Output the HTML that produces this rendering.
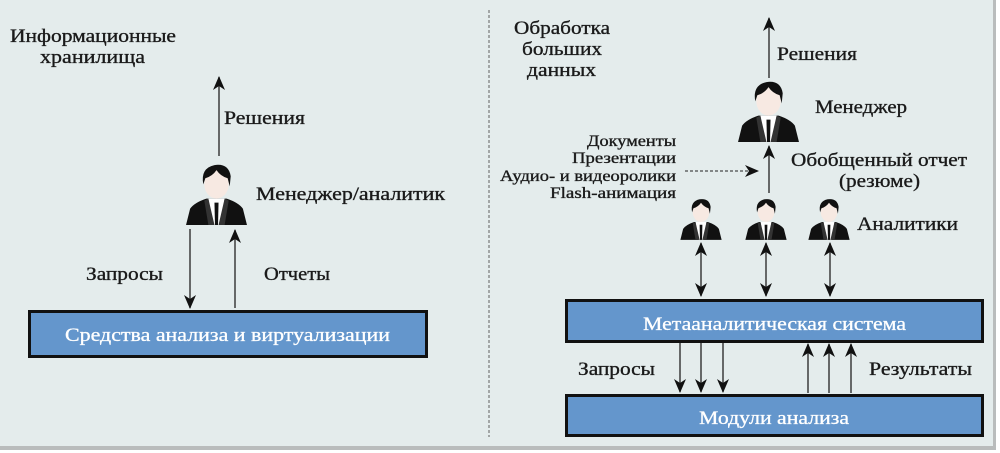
<!DOCTYPE html>
<html><head><meta charset="utf-8"><style>
html,body{margin:0;padding:0;background:#fff;}
svg{display:block;}
text{font-family:"Liberation Serif","DejaVu Serif",serif;fill:#1a1a1a;stroke:#1a1a1a;stroke-width:0.35;}
.w{fill:#fff;stroke:#fff;stroke-width:0.3;}
</style></head><body>
<svg width="1000" height="453" viewBox="0 0 1000 453" xmlns="http://www.w3.org/2000/svg">
<defs>
<marker id="a" markerWidth="14" markerHeight="12" refX="13" refY="6" orient="auto" markerUnits="userSpaceOnUse">
<path d="M0,0 L14,6 L0,12 L4,6 z" fill="#111"/></marker>
<symbol id="p" viewBox="0 0 64 62">
<path d="M2,62 L6,46 Q10,40 22,36 L42,36 Q54,40 58,46 L62,62 Z" fill="#111"/>
<path d="M24,36 L40,36 L36,62 L28,62 Z" fill="#fff"/>
<path d="M30,40 L34,40 L33.5,62 L30.5,62 Z" fill="#111"/>
<path d="M24,36 L30,62 L24,62 L20,38Z M40,36 L34,62 L40,62 L44,38Z" fill="#333"/>
<ellipse cx="32" cy="22" rx="12" ry="14" fill="#f7e9e2"/>
<path d="M19,22 Q16,6 30,3 Q44,1 46,14 L45,24 L43,16 Q36,14 32,8 Q28,14 21,16 Z" fill="#111"/>
</symbol>
</defs>
<rect x="0" y="0" width="996" height="450" fill="#b9bcbc"/>
<rect x="0" y="0" width="993" height="446" fill="#e4ecec"/>
<line x1="489" y1="10" x2="489" y2="437" stroke="#777" stroke-width="1.2" stroke-dasharray="3,2"/>

<!-- Left -->
<text x="10" y="42" font-size="19" textLength="166" lengthAdjust="spacingAndGlyphs">Информационные</text>
<text x="40" y="63" font-size="19" textLength="105" lengthAdjust="spacingAndGlyphs">хранилища</text>
<line x1="219" y1="156" x2="219" y2="77" stroke="#222" stroke-width="1.3" marker-end="url(#a)"/>
<text x="224" y="124" font-size="19" textLength="81" lengthAdjust="spacingAndGlyphs">Решения</text>
<use href="#p" x="184" y="162" width="65" height="63"/>
<text x="256" y="200" font-size="19" textLength="189" lengthAdjust="spacingAndGlyphs">Менеджер/аналитик</text>
<line x1="190" y1="229" x2="190" y2="308" stroke="#222" stroke-width="1.3" marker-end="url(#a)"/>
<line x1="235" y1="308" x2="235" y2="230" stroke="#222" stroke-width="1.3" marker-end="url(#a)"/>
<text x="86" y="280" font-size="19" textLength="77" lengthAdjust="spacingAndGlyphs">Запросы</text>
<text x="264" y="280" font-size="19" textLength="66" lengthAdjust="spacingAndGlyphs">Отчеты</text>
<rect x="29.5" y="311.5" width="397" height="45" fill="#6496cc" stroke="#111" stroke-width="3"/>
<text class="w" x="65" y="341" font-size="19" textLength="325" lengthAdjust="spacingAndGlyphs">Средства анализа и виртуализации</text>

<!-- Right -->
<text x="514" y="34" font-size="19" textLength="96" lengthAdjust="spacingAndGlyphs">Обработка</text>
<text x="522" y="55" font-size="19" textLength="80" lengthAdjust="spacingAndGlyphs">больших</text>
<text x="527" y="76" font-size="19" textLength="69" lengthAdjust="spacingAndGlyphs">данных</text>
<line x1="769" y1="78" x2="769" y2="18" stroke="#222" stroke-width="1.3" marker-end="url(#a)"/>
<text x="777" y="60" font-size="19" textLength="80" lengthAdjust="spacingAndGlyphs">Решения</text>
<use href="#p" x="736" y="79" width="65" height="63"/>
<text x="815" y="113" font-size="19" textLength="92" lengthAdjust="spacingAndGlyphs">Менеджер</text>
<line x1="769" y1="193" x2="769" y2="146" stroke="#222" stroke-width="1.3" marker-end="url(#a)"/>
<text x="791" y="166" font-size="19" textLength="176" lengthAdjust="spacingAndGlyphs">Обобщенный отчет</text>
<text x="839" y="187" font-size="19" textLength="81" lengthAdjust="spacingAndGlyphs">(резюме)</text>
<g font-size="16" text-anchor="end">
<text x="676" y="146" textLength="89" lengthAdjust="spacingAndGlyphs">Документы</text>
<text x="676" y="163" textLength="104" lengthAdjust="spacingAndGlyphs">Презентации</text>
<text x="676" y="181" textLength="176" lengthAdjust="spacingAndGlyphs">Аудио- и видеоролики</text>
<text x="676" y="198" textLength="126" lengthAdjust="spacingAndGlyphs">Flash-анимация</text>
</g>
<line x1="685" y1="171" x2="758" y2="171" stroke="#222" stroke-width="1" stroke-dasharray="3,2" marker-end="url(#a)"/>
<use href="#p" x="679" y="197" width="44" height="43"/>
<use href="#p" x="744" y="197" width="44" height="43"/>
<use href="#p" x="807" y="197" width="44" height="43"/>
<text x="857" y="230" font-size="19" textLength="101" lengthAdjust="spacingAndGlyphs">Аналитики</text>
<g stroke="#222" stroke-width="1.3">
<line x1="701" y1="269" x2="701" y2="243" marker-end="url(#a)"/><line x1="701" y1="269" x2="701" y2="296" marker-end="url(#a)"/>
<line x1="766" y1="269" x2="766" y2="243" marker-end="url(#a)"/><line x1="766" y1="269" x2="766" y2="296" marker-end="url(#a)"/>
<line x1="830" y1="269" x2="830" y2="243" marker-end="url(#a)"/><line x1="830" y1="269" x2="830" y2="296" marker-end="url(#a)"/>
</g>
<rect x="566.5" y="300.5" width="416" height="41" fill="#6496cc" stroke="#111" stroke-width="3"/>
<text class="w" x="643" y="330" font-size="19" textLength="263" lengthAdjust="spacingAndGlyphs">Метааналитическая система</text>
<g stroke="#222" stroke-width="1.3">
<line x1="680" y1="343" x2="680" y2="392" marker-end="url(#a)"/>
<line x1="701" y1="343" x2="701" y2="392" marker-end="url(#a)"/>
<line x1="723" y1="343" x2="723" y2="392" marker-end="url(#a)"/>
<line x1="808" y1="393" x2="808" y2="344" marker-end="url(#a)"/>
<line x1="829" y1="393" x2="829" y2="344" marker-end="url(#a)"/>
<line x1="851" y1="393" x2="851" y2="344" marker-end="url(#a)"/>
</g>
<text x="578" y="375" font-size="19" textLength="77" lengthAdjust="spacingAndGlyphs">Запросы</text>
<text x="869" y="375" font-size="19" textLength="103" lengthAdjust="spacingAndGlyphs">Результаты</text>
<rect x="566.5" y="395.5" width="416" height="40" fill="#6496cc" stroke="#111" stroke-width="3"/>
<text class="w" x="699" y="424" font-size="19" textLength="150" lengthAdjust="spacingAndGlyphs">Модули анализа</text>
</svg>
</body></html>
